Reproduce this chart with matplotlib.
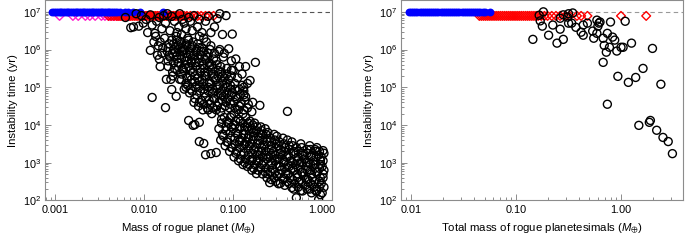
import matplotlib
matplotlib.use('Agg')
import matplotlib.pyplot as plt
import numpy as np
from matplotlib.ticker import LogLocator, NullFormatter, FixedLocator, FixedFormatter, FuncFormatter

plt.rcParams['font.family'] = ['Liberation Sans', 'DejaVu Sans']
plt.rcParams['mathtext.fontset'] = 'custom'
plt.rcParams['mathtext.rm'] = 'Liberation Sans'
plt.rcParams['mathtext.it'] = 'Liberation Sans:italic'
plt.rcParams['mathtext.fallback'] = 'stixsans'

# all values below are log10 (mass in Earth masses, time in yr)
# left panel: single rogue planet
blue_logm = [-3.03, -3.01, -2.99, -2.97, -2.95, -2.93, -2.91, -2.89, -2.87, -2.85,
             -2.83, -2.81, -2.79, -2.77, -2.75, -2.73, -2.71, -2.69, -2.67, -2.65,
             -2.63, -2.61, -2.59, -2.57, -2.55, -2.53, -2.51, -2.49, -2.47, -2.45,
             -2.43, -2.41, -2.39, -2.37, -2.35, -2.33, -2.30, -2.27, -2.22, -2.18,
             -2.12, -2.05, -1.79]
magenta_logm = [-2.95, -2.80, -2.74, -2.66, -2.61, -2.55, -2.48, -2.44, -2.40, -2.38,
                -2.35, -2.33, -2.30, -2.27, -2.24, -2.20, -2.16]
red_logm = [-2.40, -2.37, -2.34, -2.31, -2.29, -2.27, -2.25, -2.23, -2.21, -2.19,
            -2.17, -2.15, -2.13, -2.11, -2.09, -2.07, -2.05, -2.03, -2.01, -1.99,
            -1.97, -1.95, -1.93, -1.91, -1.89, -1.87, -1.85, -1.83, -1.81, -1.79,
            -1.77, -1.75, -1.73, -1.71, -1.69, -1.67, -1.65, -1.63, -1.61, -1.59,
            -1.57, -1.55, -1.52, -1.48, -1.44, -1.40, -1.36, -1.31, -1.27, -1.22]

planet_top = [(-2.21, 6.85), (-2.15, 6.58), (-2.12, 6.60), (-2.09, 6.95), (-2.06, 6.62),
              (-2.03, 6.90), (-2.01, 6.70), (-1.98, 6.80), (-1.96, 6.45), (-1.93, 6.92),
              (-1.91, 6.65), (-1.88, 6.43), (-1.86, 6.75), (-1.83, 6.85), (-1.80, 6.55),
              (-1.78, 6.90), (-1.74, 6.95), (-1.76, 6.70), (-1.71, 6.50), (-1.69, 6.88),
              (-1.66, 6.75), (-1.63, 6.45), (-1.60, 6.95), (-1.61, 6.60), (-1.57, 6.80),
              (-1.55, 6.70), (-1.53, 6.55), (-1.50, 6.85), (-1.48, 6.75), (-1.46, 6.50),
              (-1.44, 6.90), (-1.40, 6.60), (-1.38, 6.80), (-1.35, 6.45), (-1.31, 6.75),
              (-1.28, 6.88), (-1.25, 6.45), (-1.21, 6.60), (-1.18, 6.82), (-1.12, 6.40),
              (-1.08, 6.90), (-1.01, 6.41), (-1.15, 6.95)]

planet_upper = [(-1.93, 5.98), (-1.91, 4.73), (-1.89, 6.20), (-1.87, 6.35), (-1.85, 5.85),
                (-1.84, 6.10), (-1.82, 5.55), (-1.80, 5.90), (-1.79, 6.05), (-1.77, 6.30),
                (-1.76, 4.46), (-1.75, 5.21), (-1.73, 5.70), (-1.74, 5.95), (-1.72, 6.15),
                (-1.69, 4.94), (-1.70, 5.21), (-1.68, 5.40), (-1.71, 5.80), (-1.67, 6.00),
                (-1.69, 6.25), (-1.64, 4.76), (-1.66, 5.50), (-1.63, 5.75), (-1.65, 5.92),
                (-1.62, 6.10), (-1.64, 6.35), (-1.60, 5.21), (-1.58, 5.35), (-1.61, 5.65),
                (-1.59, 5.85), (-1.57, 6.05), (-1.60, 6.22), (-1.58, 6.40), (-1.55, 4.95),
                (-1.53, 5.10), (-1.56, 5.45), (-1.54, 5.60), (-1.52, 5.80), (-1.55, 6.00),
                (-1.53, 6.15), (-1.51, 6.30), (-1.49, 4.85), (-1.51, 5.05), (-1.48, 5.30),
                (-1.50, 5.55), (-1.47, 5.70), (-1.49, 5.95), (-1.46, 6.10), (-1.50, 6.25),
                (-1.44, 4.60), (-1.46, 4.90), (-1.43, 5.15), (-1.45, 5.40), (-1.42, 5.65),
                (-1.44, 5.85), (-1.41, 6.00), (-1.45, 6.20), (-1.39, 4.50), (-1.41, 4.80),
                (-1.38, 5.05), (-1.40, 5.25), (-1.37, 5.50), (-1.39, 5.75), (-1.36, 5.95),
                (-1.40, 6.15), (-1.38, 6.35), (-1.34, 4.40), (-1.36, 4.65), (-1.33, 4.95),
                (-1.35, 5.20), (-1.32, 5.40), (-1.34, 5.60), (-1.31, 5.85), (-1.35, 6.05),
                (-1.33, 6.30), (-1.29, 4.45), (-1.31, 4.75), (-1.28, 5.00), (-1.30, 5.30),
                (-1.27, 5.55), (-1.29, 5.80), (-1.26, 6.00), (-1.30, 6.20), (-1.24, 4.30),
                (-1.26, 4.55), (-1.23, 4.85), (-1.25, 5.10), (-1.22, 5.35), (-1.24, 5.60),
                (-1.21, 5.90), (-1.25, 6.10), (-1.19, 4.40), (-1.21, 4.70), (-1.18, 4.95),
                (-1.20, 5.20), (-1.17, 5.45), (-1.19, 5.70), (-1.16, 5.95), (-1.14, 4.35),
                (-1.16, 4.60), (-1.13, 4.80), (-1.15, 5.05), (-1.12, 5.30), (-1.14, 5.55),
                (-1.11, 5.80), (-1.09, 4.50), (-1.11, 4.75), (-1.08, 5.00), (-1.10, 5.25),
                (-1.07, 5.50), (-1.04, 4.45), (-1.06, 4.70), (-1.03, 4.95), (-1.05, 5.20),
                (-1.02, 5.45), (-0.99, 4.60), (-1.01, 4.85), (-0.98, 5.10), (-0.94, 4.40),
                (-0.96, 4.70), (-0.93, 4.95), (-0.89, 4.30), (-0.91, 4.55), (-0.88, 4.80),
                (-0.90, 5.05), (-0.84, 4.45), (-0.86, 4.75), (-0.81, 5.18), (-0.79, 4.35),
                (-0.78, 4.60), (-0.75, 5.66), (-0.70, 4.52),
                (-1.15, 6.00), (-1.10, 5.90), (-1.05, 6.02), (-1.02, 5.70), (-0.97, 5.75),
                (-0.93, 5.55), (-0.90, 5.35), (-0.86, 5.55), (-0.84, 5.10), (-0.88, 5.00),
                (-0.95, 5.25), (-1.00, 5.45)]

planet_upper_fill = [(-1.83, 5.75), (-1.82, 6.20), (-1.73, 5.55), (-1.72, 5.85), (-1.73, 6.05),
                     (-1.68, 5.30), (-1.67, 5.65), (-1.68, 5.90), (-1.67, 6.15),
                     (-1.63, 5.45), (-1.62, 5.65), (-1.63, 5.85), (-1.62, 6.00), (-1.63, 6.25),
                     (-1.58, 5.20), (-1.57, 5.50), (-1.58, 5.75), (-1.57, 5.95), (-1.58, 6.15),
                     (-1.53, 5.00), (-1.52, 5.25), (-1.53, 5.50), (-1.52, 5.70), (-1.53, 5.90),
                     (-1.52, 6.10), (-1.48, 4.95), (-1.47, 5.20), (-1.48, 5.45), (-1.47, 5.65),
                     (-1.48, 5.85), (-1.47, 6.05), (-1.43, 4.70), (-1.42, 5.00), (-1.43, 5.30),
                     (-1.42, 5.55), (-1.43, 5.75), (-1.42, 5.95), (-1.38, 4.60), (-1.37, 4.90),
                     (-1.38, 5.15), (-1.37, 5.40), (-1.38, 5.65), (-1.37, 5.85), (-1.38, 6.05),
                     (-1.33, 4.55), (-1.32, 4.85), (-1.33, 5.10), (-1.32, 5.30), (-1.33, 5.50),
                     (-1.32, 5.75), (-1.33, 5.95), (-1.28, 4.40), (-1.27, 4.65), (-1.28, 4.90),
                     (-1.27, 5.15), (-1.28, 5.40), (-1.27, 5.65), (-1.28, 5.90), (-1.23, 4.45),
                     (-1.22, 4.70), (-1.23, 4.95), (-1.22, 5.25), (-1.23, 5.50), (-1.22, 5.75),
                     (-1.18, 4.50), (-1.17, 4.80), (-1.18, 5.05), (-1.17, 5.30), (-1.18, 5.60),
                     (-1.13, 4.45), (-1.12, 4.65), (-1.13, 4.90), (-1.12, 5.15), (-1.13, 5.40),
                     (-1.08, 4.60), (-1.07, 4.85), (-1.08, 5.10), (-1.07, 5.35), (-1.03, 4.55),
                     (-1.02, 4.80), (-1.03, 5.05), (-1.02, 5.30), (-0.98, 4.45), (-0.97, 4.75),
                     (-0.98, 4.95), (-0.93, 4.50), (-0.92, 4.80), (-0.88, 4.40), (-0.87, 4.65),
                     (-0.88, 4.90), (-0.83, 4.55)]

planet_lower = [(-1.14, 3.60), (-1.16, 3.90), (-1.13, 4.15), (-1.09, 3.45), (-1.11, 3.70),
                (-1.08, 3.95), (-1.10, 4.20), (-1.04, 3.30), (-1.06, 3.55), (-1.03, 3.80),
                (-1.05, 4.05), (-1.02, 4.25), (-0.99, 3.15), (-1.01, 3.40), (-0.98, 3.65),
                (-1.00, 3.90), (-0.97, 4.10), (-0.99, 4.30), (-0.94, 3.05), (-0.96, 3.30),
                (-0.93, 3.55), (-0.95, 3.75), (-0.92, 3.95), (-0.94, 4.15), (-0.89, 2.95),
                (-0.91, 3.20), (-0.88, 3.45), (-0.90, 3.65), (-0.87, 3.85), (-0.89, 4.05),
                (-0.84, 2.90), (-0.86, 3.10), (-0.83, 3.35), (-0.85, 3.55), (-0.82, 3.75),
                (-0.84, 3.95), (-0.86, 4.20), (-0.79, 2.80), (-0.81, 3.05), (-0.78, 3.25),
                (-0.80, 3.50), (-0.77, 3.70), (-0.79, 3.90), (-0.81, 4.10), (-0.74, 2.71),
                (-0.76, 2.95), (-0.73, 3.20), (-0.75, 3.40), (-0.72, 3.60), (-0.74, 3.85),
                (-0.76, 4.05), (-0.69, 2.85), (-0.71, 3.05), (-0.68, 3.30), (-0.70, 3.50),
                (-0.67, 3.75), (-0.69, 3.95), (-0.64, 2.75), (-0.66, 3.00), (-0.63, 3.20),
                (-0.65, 3.45), (-0.62, 3.65), (-0.64, 3.90), (-0.59, 2.47), (-0.61, 2.70),
                (-0.58, 2.95), (-0.60, 3.15), (-0.57, 3.35), (-0.59, 3.55), (-0.61, 3.80),
                (-0.54, 2.60), (-0.56, 2.85), (-0.53, 3.05), (-0.55, 3.30), (-0.52, 3.50),
                (-0.54, 3.75), (-0.49, 2.44), (-0.51, 2.65), (-0.48, 2.90), (-0.50, 3.10),
                (-0.47, 3.25), (-0.49, 3.45), (-0.51, 3.70), (-0.44, 2.55), (-0.46, 2.80),
                (-0.43, 3.00), (-0.45, 3.20), (-0.42, 3.40), (-0.44, 3.65), (-0.39, 2.50),
                (-0.41, 2.70), (-0.38, 2.95), (-0.40, 3.15), (-0.37, 3.35), (-0.39, 3.60),
                (-0.39, 4.36), (-0.34, 2.34), (-0.36, 2.60), (-0.33, 2.85), (-0.35, 3.05),
                (-0.32, 3.30), (-0.34, 3.55), (-0.29, 2.07), (-0.31, 2.45), (-0.28, 2.70),
                (-0.30, 2.95), (-0.27, 3.15), (-0.29, 3.40), (-0.24, 2.26), (-0.26, 2.50),
                (-0.23, 2.75), (-0.25, 3.00), (-0.22, 3.25), (-0.24, 3.50), (-0.19, 2.40),
                (-0.21, 2.65), (-0.18, 2.90), (-0.20, 3.10), (-0.17, 3.35), (-0.14, 2.30),
                (-0.16, 2.55), (-0.13, 2.80), (-0.15, 3.00), (-0.12, 3.20), (-0.14, 3.45),
                (-0.09, 2.35), (-0.11, 2.60), (-0.08, 2.85), (-0.10, 3.05), (-0.07, 3.30),
                (-0.04, 2.02), (-0.06, 2.25), (-0.03, 2.50), (-0.05, 2.75), (-0.02, 2.95),
                (-0.04, 3.20), (-0.06, 3.40), (0.00, 2.20), (-0.01, 2.45), (0.01, 2.70),
                (0.00, 2.90), (-0.01, 3.15), (0.01, 3.32),
                (-1.38, 3.56), (-1.33, 3.51), (-1.31, 3.21), (-1.25, 3.24), (-1.19, 3.27),
                (-1.45, 3.99), (-1.50, 4.12), (-1.43, 4.01), (-1.38, 4.07)]

planet_lower_fill = [(-1.12, 3.75), (-1.13, 4.05), (-1.07, 3.55), (-1.08, 3.85), (-1.07, 4.10),
                     (-1.02, 3.40), (-1.03, 3.65), (-1.02, 3.95), (-1.03, 4.20), (-0.97, 3.25),
                     (-0.98, 3.50), (-0.97, 3.80), (-0.98, 4.00), (-0.92, 3.10), (-0.93, 3.40),
                     (-0.92, 3.60), (-0.93, 3.90), (-0.92, 4.10), (-0.87, 3.00), (-0.88, 3.25),
                     (-0.87, 3.50), (-0.88, 3.75), (-0.87, 3.95), (-0.82, 2.95), (-0.83, 3.20),
                     (-0.82, 3.45), (-0.83, 3.65), (-0.82, 3.85), (-0.83, 4.05), (-0.77, 2.85),
                     (-0.78, 3.10), (-0.77, 3.35), (-0.78, 3.60), (-0.77, 3.80), (-0.78, 4.00),
                     (-0.72, 2.80), (-0.73, 3.05), (-0.72, 3.30), (-0.73, 3.50), (-0.72, 3.70),
                     (-0.73, 3.95), (-0.67, 2.70), (-0.68, 2.95), (-0.67, 3.15), (-0.68, 3.40),
                     (-0.67, 3.60), (-0.68, 3.85), (-0.62, 2.60), (-0.63, 2.85), (-0.62, 3.10),
                     (-0.63, 3.30), (-0.62, 3.55), (-0.63, 3.75), (-0.57, 2.55), (-0.58, 2.75),
                     (-0.57, 3.00), (-0.58, 3.20), (-0.57, 3.45), (-0.58, 3.65), (-0.52, 2.50),
                     (-0.53, 2.75), (-0.52, 2.95), (-0.53, 3.20), (-0.52, 3.40), (-0.53, 3.60),
                     (-0.47, 2.45), (-0.48, 2.70), (-0.47, 2.90), (-0.48, 3.10), (-0.47, 3.35),
                     (-0.48, 3.55), (-0.42, 2.40), (-0.43, 2.60), (-0.42, 2.85), (-0.43, 3.05),
                     (-0.42, 3.30), (-0.43, 3.50), (-0.37, 2.45), (-0.38, 2.70), (-0.37, 2.90),
                     (-0.38, 3.20), (-0.37, 3.45), (-0.32, 2.30), (-0.33, 2.55), (-0.32, 2.80),
                     (-0.33, 3.00), (-0.32, 3.25), (-0.33, 3.45), (-0.27, 2.35), (-0.28, 2.60),
                     (-0.27, 2.85), (-0.28, 3.05), (-0.27, 3.30), (-0.22, 2.25), (-0.23, 2.50),
                     (-0.22, 2.75), (-0.23, 3.00), (-0.22, 3.20), (-0.23, 3.40), (-0.17, 2.30),
                     (-0.18, 2.55), (-0.17, 2.80), (-0.18, 3.00), (-0.17, 3.25), (-0.12, 2.20),
                     (-0.13, 2.45), (-0.12, 2.70), (-0.13, 2.95), (-0.12, 3.15), (-0.13, 3.35),
                     (-0.07, 2.25), (-0.08, 2.50), (-0.07, 2.75), (-0.08, 2.95), (-0.07, 3.15),
                     (-0.08, 3.35), (-0.02, 2.15), (-0.03, 2.35), (-0.02, 2.60), (-0.03, 2.85),
                     (-0.02, 3.05), (-0.03, 3.30), (0.02, 2.35), (0.01, 2.60), (0.02, 2.80),
                     (0.01, 3.05), (0.02, 3.25)]

# right panel: swarm of rogue planetesimals
blue2_logm = [-2.02, -2.00, -1.98, -1.96, -1.94, -1.92, -1.90, -1.88, -1.86, -1.84,
              -1.82, -1.80, -1.78, -1.76, -1.74, -1.72, -1.70, -1.68, -1.66, -1.64,
              -1.62, -1.60, -1.58, -1.56, -1.54, -1.52, -1.50, -1.48, -1.46, -1.44,
              -1.42, -1.40, -1.38, -1.36, -1.34, -1.32, -1.30, -1.25]
red2_logm = [-1.35, -1.33, -1.31, -1.29, -1.27, -1.25, -1.23, -1.21, -1.19, -1.17,
             -1.15, -1.13, -1.11, -1.09, -1.07, -1.05, -1.03, -1.01, -0.99, -0.97,
             -0.95, -0.93, -0.91, -0.89, -0.87, -0.85, -0.83, -0.81, -0.79, -0.76,
             -0.73, -0.70, -0.66, -0.62, -0.58, -0.53, -0.49, -0.42, -0.38, -0.32,
             0.00, 0.24]
swarm = [(-0.84, 6.27), (-0.78, 6.91), (-0.74, 7.00), (-0.77, 6.76), (-0.75, 6.62),
         (-0.69, 6.38), (-0.65, 6.65), (-0.61, 6.17), (-0.58, 6.83), (-0.55, 6.27),
         (-0.58, 6.54), (-0.51, 6.86), (-0.50, 6.70), (-0.46, 6.97), (-0.47, 6.70),
         (-0.43, 6.59), (-0.38, 6.46), (-0.36, 6.38), (-0.32, 6.70), (-0.36, 6.65),
         (-0.27, 6.49), (-0.23, 6.78), (-0.21, 6.70), (-0.23, 6.43), (-0.26, 6.30),
         (-0.17, 6.30), (-0.16, 6.11), (-0.10, 6.73), (-0.13, 6.43), (-0.08, 6.33),
         (-0.06, 6.25), (-0.14, 5.93), (-0.11, 6.06), (-0.04, 5.96), (0.00, 6.06),
         (0.02, 6.06), (0.04, 6.75), (0.10, 6.17), (-0.17, 5.66), (-0.03, 5.29),
         (0.07, 5.13), (0.14, 5.26), (0.21, 5.50), (0.30, 6.03), (0.38, 5.08),
         (-0.13, 4.55), (0.28, 4.12), (0.17, 3.99), (0.27, 4.07), (0.34, 3.86),
         (0.40, 3.67), (0.45, 3.56), (0.49, 3.24), (-0.55, 6.92), (-0.50, 6.95),
         (-0.22, 6.62), (-0.20, 6.73)]

fig = plt.figure(figsize=(6.85, 2.4), dpi=100)
ax1 = fig.add_axes([0.0657, 0.165, 0.419, 0.833])
ax2 = fig.add_axes([0.5854, 0.165, 0.4117, 0.833])

ax1.axhline(1e7, color='#555555', lw=0.8, ls=(0, (4, 3)), zorder=1)
ax2.axhline(1e7, color='#999999', lw=0.8, ls=(0, (4, 3)), zorder=1)

# left panel
ax1.scatter(10**np.array(magenta_logm), np.full(len(magenta_logm), 7.8e6), marker='D', s=20,
            facecolors='none', edgecolors='#ff1dce', linewidths=1.0, zorder=2)
ax1.scatter(10**np.array(red_logm), np.full(len(red_logm), 7.8e6), marker='D', s=20,
            facecolors='none', edgecolors='#ff0000', linewidths=1.0, zorder=3)
ax1.scatter(10**np.array(blue_logm), np.full(len(blue_logm), 1e7), marker='o', s=32,
            color='#0000ff', linewidths=0, zorder=4)
pts = np.array(planet_top + planet_upper + planet_upper_fill + planet_lower + planet_lower_fill)
ax1.scatter(10**pts[:, 0], 10**pts[:, 1], marker='o', s=33, facecolors='none',
            edgecolors='k', linewidths=1.0, zorder=5)

# right panel
ax2.scatter(10**np.array(blue2_logm), np.full(len(blue2_logm), 1e7), marker='o', s=32,
            color='#0000ff', linewidths=0, zorder=4)
ax2.scatter(10**np.array(red2_logm), np.full(len(red2_logm), 7.8e6), marker='D', s=20,
            facecolors='none', edgecolors='#ff0000', linewidths=1.0, zorder=3)
sw = np.array(swarm)
ax2.scatter(10**sw[:, 0], 10**sw[:, 1], marker='o', s=33, facecolors='none',
            edgecolors='k', linewidths=1.0, zorder=5)

ax1.set_xlim(7.7e-4, 1.29)
ax2.set_xlim(8.0e-3, 3.9)

for ax in (ax1, ax2):
    ax.set_xscale('log')
    ax.set_yscale('log')
    ax.set_ylim(1e2, 2e7)
    ax.yaxis.set_major_locator(FixedLocator([1e2, 1e3, 1e4, 1e5, 1e6, 1e7]))
    ax.yaxis.set_major_formatter(FuncFormatter(lambda v, p: r'$10^{%d}$' % round(np.log10(v))))
    ax.yaxis.set_minor_locator(LogLocator(base=10, subs=np.arange(2, 10)))
    ax.yaxis.set_minor_formatter(NullFormatter())
    ax.xaxis.set_minor_locator(LogLocator(base=10, subs=np.arange(2, 10)))
    ax.xaxis.set_minor_formatter(NullFormatter())
    for sp in ax.spines.values():
        sp.set_color('#8c8c8c')
        sp.set_linewidth(0.8)
    ax.tick_params(which='both', direction='in', color='#8c8c8c', labelsize=7.8, width=0.7,
                   top=False, right=False)
    ax.tick_params(which='major', length=4, pad=3)
    ax.tick_params(which='minor', length=2)
    ax.set_ylabel('Instability time (yr)', fontsize=8.2, labelpad=3)

ax1.xaxis.set_major_locator(FixedLocator([0.001, 0.01, 0.1, 1.0]))
ax1.xaxis.set_major_formatter(FixedFormatter(['0.001', '0.010', '0.100', '1.000']))
ax2.xaxis.set_major_locator(FixedLocator([0.01, 0.1, 1.0]))
ax2.xaxis.set_major_formatter(FixedFormatter(['0.01', '0.10', '1.00']))

ax1.set_xlabel(r'Mass of rogue planet ($M_{\oplus}$)', fontsize=8.2, labelpad=5)
ax2.set_xlabel(r'Total mass of rogue planetesimals ($M_{\oplus}$)', fontsize=8.2, labelpad=5)

fig.savefig('out.png', dpi=100)
